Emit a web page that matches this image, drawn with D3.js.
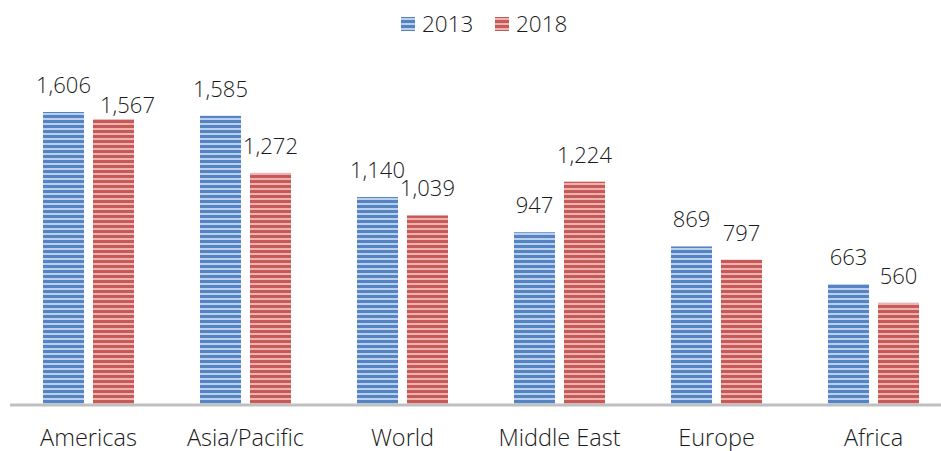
<!DOCTYPE html>
<html>
<head>
<meta charset="utf-8">
<script src="https://cdn.jsdelivr.net/npm/d3@7"></script>
<style>
  body { margin: 0; background: #fff; }
  text { font-family: "Open Sans", sans-serif; font-weight: 300; fill: #1a1a1a; }
</style>
</head>
<body>
<div id="chart"></div>
<script>
// data
const regions = ["Americas", "Asia/Pacific", "World", "Middle East", "Europe", "Africa"];
const years = ["2013", "2018"];
const values2013 = [1606, 1585, 1140, 947, 869, 663];
const values2018 = [1567, 1272, 1039, 1224, 797, 560];

const W = 941, H = 451;
const baseY = 405;

const svg = d3.select("#chart").append("svg")
  .attr("width", W).attr("height", H);

// striped fills
const stripes = [
  {id: "s2013", dark: "#5584c4", light: "#bcd0ec"},
  {id: "s2018", dark: "#c55a58", light: "#ecb3b1"}
];
const defs = svg.append("defs");
stripes.forEach(function(s){
  let p = defs.append("pattern").attr("id", s.id)
    .attr("patternUnits", "userSpaceOnUse")
    .attr("width", 8).attr("height", 5);
  p.append("rect").attr("width", 8).attr("height", 5).attr("fill", s.dark);
  p.append("rect").attr("y", 3).attr("width", 8).attr("height", 2).attr("fill", s.light);
});

let x = d3.scaleBand().domain(regions).range([10, 952]);
let xs = d3.scaleBand().domain(years).range([x.bandwidth()/2 - 45.5, x.bandwidth()/2 + 45.5]).paddingInner(0.18);
let y = d3.scaleLinear().domain([0, 1606]).range([baseY, 112]);

let rows = regions.map(function(r, i){
  return {region: r, vals: [{year: "2013", v: values2013[i]}, {year: "2018", v: values2018[i]}]};
});

let fmt = d3.format(",");

let groups = svg.selectAll("g.grp").data(rows).enter()
  .append("g").attr("class", "grp")
  .attr("transform", function(d){ return "translate(" + x(d.region) + ",0)"; });

groups.selectAll("rect").data(function(d){ return d.vals; }).enter()
  .append("rect")
  .attr("x", function(d){ return xs(d.year); })
  .attr("y", function(d){ return y(d.v); })
  .attr("width", xs.bandwidth())
  .attr("height", function(d){ return baseY - y(d.v); })
  .attr("fill", function(d){ return "url(#s" + d.year + ")"; });

groups.selectAll("text.val").data(function(d){ return d.vals; }).enter()
  .append("text").attr("class", "val")
  .attr("x", function(d){ return xs(d.year) + xs.bandwidth()/2; })
  .attr("y", function(d){ return y(d.v) - 19; })
  .attr("text-anchor", "middle")
  .style("font-size", "22px")
  .text(function(d){ return fmt(d.v); });

// if the two labels of a group overlap, nudge the 2018 one down and right
groups.each(function(){
  let t = d3.select(this).selectAll("text.val").nodes();
  let a = t[0].getBBox(), b = t[1].getBBox();
  let overlapX = a.x + a.width > b.x;
  let overlapY = Math.abs(a.y - b.y) < 17;
  if (overlapX && overlapY){
    d3.select(t[1])
      .attr("x", +t[1].getAttribute("x") + 14)
      .attr("y", +t[0].getAttribute("y") + 20);
  }
});

// axis
let axis = svg.append("g").attr("transform", "translate(0," + baseY + ")")
  .call(d3.axisBottom(x).tickSize(0));
axis.select(".domain").attr("stroke", "#bfbfbf").attr("stroke-width", 3).attr("d", "M10,0H941");
axis.selectAll("text").attr("y", 40.5).attr("dy", null)
  .style("font-size", "23.5px").attr("fill", "#1a1a1a")
  .style("font-family", "'Open Sans', sans-serif").style("font-weight", 300);

// legend
let legend = svg.append("g");
let lx = [401, 495];
years.forEach(function(yr, i){
  legend.append("rect").attr("x", lx[i]).attr("y", 17).attr("width", 14).attr("height", 14)
    .attr("fill", "url(#s" + yr + ")");
  legend.append("text").attr("x", lx[i] + 21).attr("y", 32)
    .style("font-size", "22.5px").text(yr);
});
</script>
</body>
</html>
